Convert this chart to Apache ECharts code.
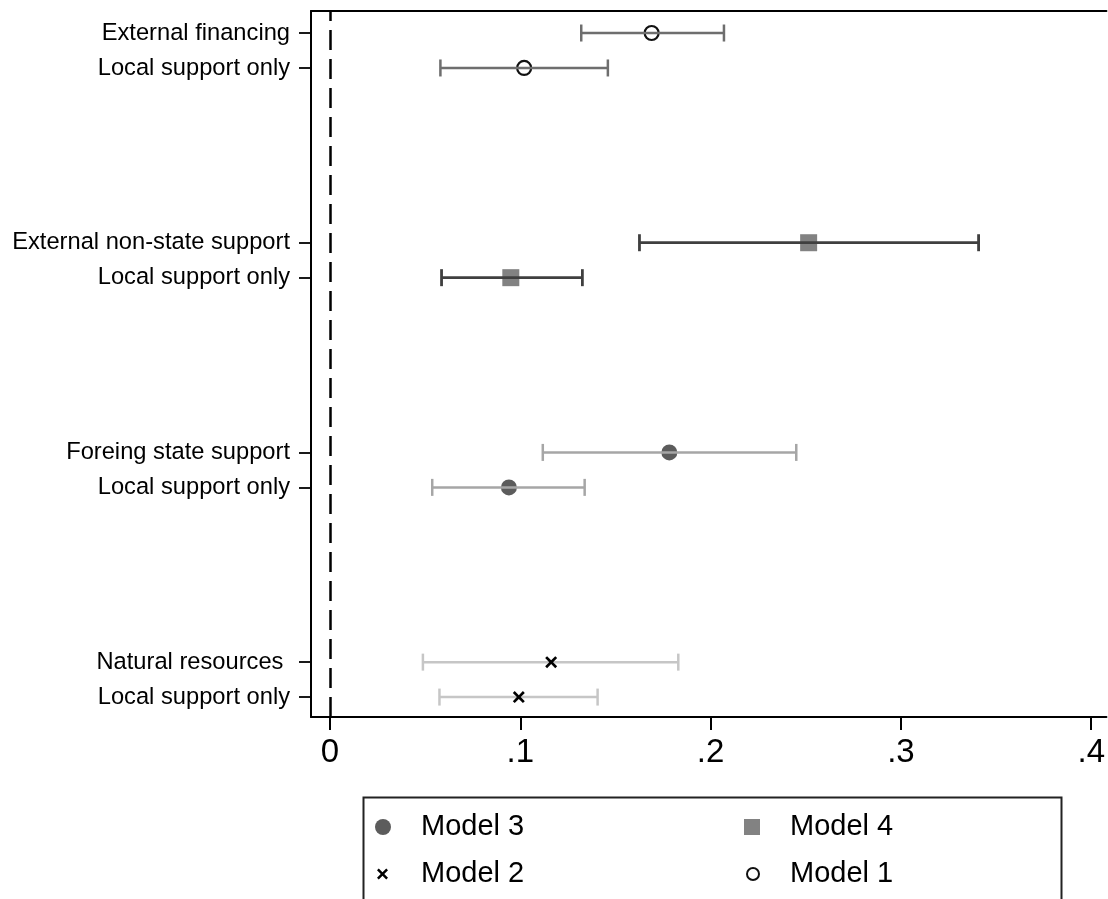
<!DOCTYPE html>
<html>
<head>
<meta charset="utf-8">
<script src="https://cdn.jsdelivr.net/npm/echarts@6/dist/echarts.min.js"></script>
<style>
html,body{margin:0;padding:0;background:#fff;}
#chart{width:1108px;height:899px;}
</style>
</head>
<body>
<div id="chart"></div>
<script>
// ---- data ----
const rowValues = [0, 1, 6, 7, 12, 13, 18, 19];
const rowLabels = ['Local support only', 'Natural resources ', 'Local support only', 'Foreing state support',
                   'Local support only', 'External non-state support', 'Local support only', 'External financing'];
const xTickValues = [0, 0.1, 0.2, 0.3, 0.4];
const xTickLabels = ['0', '.1', '.2', '.3', '.4'];

// Model 1
const m1Rows = [18, 19];
const m1Est = [0.102, 0.169];
const m1Lo = [0.058, 0.132];
const m1Hi = [0.146, 0.207];
// Model 4
const m4Rows = [12, 13];
const m4Est = [0.095, 0.2515];
const m4Lo = [0.0586, 0.1626];
const m4Hi = [0.1326, 0.3408];
// Model 3
const m3Rows = [6, 7];
const m3Est = [0.094, 0.1783];
const m3Lo = [0.0537, 0.1118];
const m3Hi = [0.1338, 0.245];
// Model 2
const m2Rows = [0, 1];
const m2Est = [0.0992, 0.1162];
const m2Lo = [0.0575, 0.0488];
const m2Hi = [0.1406, 0.183];

const FONT = '"Liberation Sans", Arial, Helvetica, sans-serif';
const xPath = 'path://M0.16,0 L0.5,0.34 L0.84,0 L1,0.16 L0.66,0.5 L1,0.84 L0.84,1 L0.5,0.66 L0.16,1 L0,0.84 L0.34,0.5 L0,0.16 Z';

function pts(est, rows) { return est.map((v, i) => [v, rows[i]]); }
function bars(lo, hi, rows) { return lo.map((v, i) => [v, hi[i], rows[i]]); }

function errRender(color, width) {
  return function (params, api) {
    const a = api.coord([api.value(0), api.value(2)]);
    const b = api.coord([api.value(1), api.value(2)]);
    const h = 8.5;
    const style = { stroke: color, lineWidth: width };
    return {
      type: 'group',
      children: [
        { type: 'line', shape: { x1: a[0], y1: a[1], x2: b[0], y2: b[1] }, style: style },
        { type: 'line', shape: { x1: a[0], y1: a[1] - h, x2: a[0], y2: a[1] + h }, style: style },
        { type: 'line', shape: { x1: b[0], y1: b[1] - h, x2: b[0], y2: b[1] + h }, style: style }
      ]
    };
  };
}

function errSeries(name, lo, hi, rows, color, width) {
  return {
    name: name, type: 'custom', z: 3, silent: true,
    renderItem: errRender(color, width),
    encode: { x: [0, 1], y: 2 },
    data: bars(lo, hi, rows)
  };
}

function legendItem(name, left, top, size, pad) {
  return {
    data: [name], left: left, top: top, orient: 'horizontal',
    itemWidth: size, itemHeight: size, selectedMode: false, padding: 0,
    textStyle: { fontFamily: FONT, fontSize: 29, color: '#000', lineHeight: 30, padding: [0, 0, 0, pad] }
  };
}

const chart = echarts.init(document.getElementById('chart'), null, { renderer: 'canvas' });
chart.setOption({
  animation: false,
  backgroundColor: '#fff',
  grid: { left: 311, right: 0, top: 11, bottom: 182, containLabel: false },
  xAxis: [{
    type: 'value', position: 'bottom', min: -0.01, max: 0.408,
    axisLine: { show: true, onZero: false, lineStyle: { color: '#000', width: 2 } },
    axisTick: { show: true, customValues: xTickValues, length: 13, lineStyle: { color: '#000', width: 2 } },
    axisLabel: {
      show: true, customValues: xTickValues, margin: 19,
      fontFamily: FONT, fontSize: 33, color: '#000',
      formatter: function (v) {
        const i = xTickValues.findIndex(t => Math.abs(t - v) < 1e-9);
        return i >= 0 ? xTickLabels[i] : '';
      }
    },
    splitLine: { show: false }
  }, {
    type: 'value', position: 'top', min: -0.01, max: 0.408,
    axisLine: { show: true, onZero: false, lineStyle: { color: '#000', width: 2 } },
    axisTick: { show: false }, axisLabel: { show: false }, splitLine: { show: false }
  }],
  yAxis: {
    type: 'value', min: -0.57, max: 19.63,
    axisLine: { show: true, onZero: false, lineStyle: { color: '#000', width: 2 } },
    axisTick: { show: true, customValues: rowValues, length: 12, lineStyle: { color: '#000', width: 1.8 } },
    axisLabel: {
      show: true, customValues: rowValues, margin: 21,
      fontFamily: FONT, fontSize: 23.7, color: '#000',
      formatter: function (v) {
        const i = rowValues.findIndex(t => Math.abs(t - v) < 1e-9);
        return i >= 0 ? rowLabels[i] : '';
      }
    },
    splitLine: { show: false }
  },
  legend: [
    legendItem('Model 3', 375, 812, 16, 25),
    legendItem('Model 4', 744, 812, 16, 25),
    legendItem('Model 2', 377, 859, 11, 28),
    legendItem('Model 1', 746, 859, 12, 26)
  ],
  graphic: [{
    type: 'rect', left: 361, top: 795, silent: true,
    shape: { width: 698, height: 120 },
    style: { fill: 'none', stroke: '#222', lineWidth: 2 }
  }],
  series: [
    {
      name: 'Model 1', type: 'scatter', z: 2, symbol: 'circle', symbolSize: 14,
      itemStyle: { color: 'rgba(255,255,255,0)', borderColor: '#111', borderWidth: 2.2, opacity: 1 },
      data: pts(m1Est, m1Rows),
      markLine: {
        silent: true, symbol: 'none', label: { show: false },
        lineStyle: { type: [20, 9], color: '#000', width: 2.5 },
        data: [{ xAxis: 0 }]
      }
    },
    {
      name: 'Model 4', type: 'scatter', z: 2, symbol: 'rect', symbolSize: 17,
      itemStyle: { color: '#828282', opacity: 1 },
      data: pts(m4Est, m4Rows)
    },
    {
      name: 'Model 3', type: 'scatter', z: 2, symbol: 'circle', symbolSize: 16,
      itemStyle: { color: '#5c5c5c', opacity: 1 },
      data: pts(m3Est, m3Rows)
    },
    {
      name: 'Model 2', type: 'scatter', z: 4, symbol: xPath, symbolSize: 12,
      itemStyle: { color: '#000', opacity: 1 },
      data: pts(m2Est, m2Rows)
    },
    errSeries('ci1', m1Lo, m1Hi, m1Rows, '#6e6e6e', 2.5),
    errSeries('ci4', m4Lo, m4Hi, m4Rows, '#3f3f3f', 2.8),
    errSeries('ci3', m3Lo, m3Hi, m3Rows, '#a6a6a6', 2.5),
    errSeries('ci2', m2Lo, m2Hi, m2Rows, '#c6c6c6', 2.5)
  ]
});
</script>
</body>
</html>
